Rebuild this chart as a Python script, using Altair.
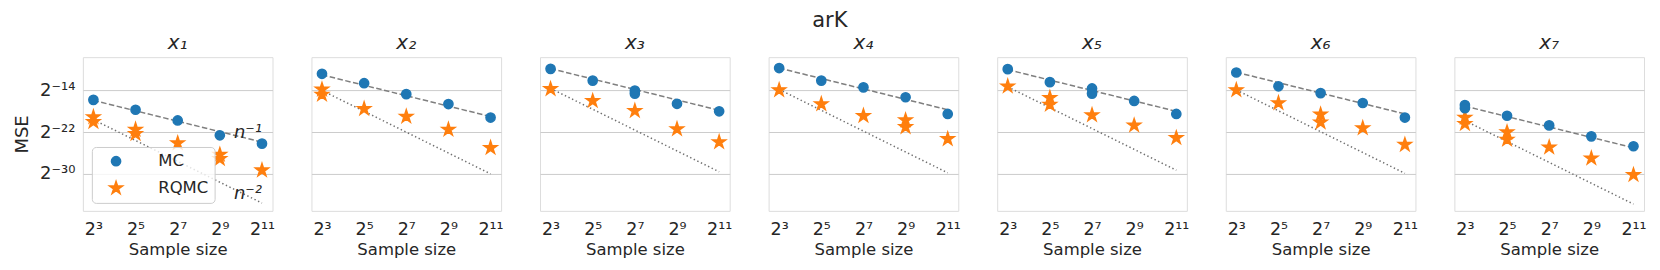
import math
import altair as alt
import pandas as pd

# ---------------- data (log2 units) ----------------
N_EXP = [3, 5, 7, 9, 11]
PANELS = ["x₁", "x₂", "x₃", "x₄", "x₅", "x₆", "x₇"]

MC = [
    [-15.8, -17.7, -19.75, -22.6, -24.2],
    [-10.8, -12.6, -14.7, -16.6, -19.2],
    [-9.85, -12.1, -14.0, -16.55, -18.0],
    [-9.7, -12.1, -13.4, -15.3, -18.5],
    [-9.9, -12.4, -13.6, -16.0, -18.5],
    [-10.55, -13.2, -14.5, -16.4, -19.2],
    [-16.8, -18.85, -20.7, -22.8, -24.7],
]
RQMC = [
    [-19.1, -21.5, -24.1, -26.3, -29.3],
    [-13.8, -17.5, -19.0, -21.5, -25.0],
    [-13.7, -16.0, -17.9, -21.4, -23.9],
    [-13.9, -16.6, -18.85, -19.7, -23.3],
    [-13.2, -15.4, -18.7, -20.7, -23.1],
    [-13.9, -16.4, -18.6, -21.2, -24.4],
    [-19.2, -22.0, -24.9, -27.0, -30.2],
]
# additional repetitions visible as overlapping markers
EXTRA_PANEL = [0, 0, 0, 1, 4, 5, 3, 2, 4, 6, 6, 6]
EXTRA_METHOD = ["RQMC", "RQMC", "RQMC", "RQMC", "RQMC", "RQMC", "RQMC",
                "MC", "MC", "RQMC", "MC", "RQMC"]
EXTRA_N = [3, 5, 9, 3, 5, 7, 9, 7, 7, 5, 3, 3]
EXTRA_MSE = [-20.0, -22.3, -27.1, -14.8, -16.7, -20.1, -21.0,
             -14.6, -14.6, -23.4, -17.4, -20.4]

# reference rate lines: values at n = 2^3 and n = 2^11
DASH_START = [-15.9, -11.0, -9.8, -9.7, -10.0, -10.5, -17.0]
DASH_END = [-23.9, -19.0, -17.8, -17.7, -18.0, -18.5, -25.0]
DOT_START = [-19.6, -14.0, -13.6, -13.8, -13.3, -13.9, -19.8]
DOT_END = [-35.6, -30.0, -29.6, -29.8, -29.3, -29.9, -35.8]

X_TICKS = [3, 5, 7, 9, 11]
X_LABELS = ["2³", "2⁵", "2⁷", "2⁹", "2¹¹"]
Y_TICKS = [-14, -22, -30]
Y_LABELS = ["2⁻¹⁴", "2⁻²²", "2⁻³⁰"]
RATE_TEXT = ["n⁻¹", "n⁻²"]
METHODS = ["MC", "RQMC"]

# ---------------- styling ----------------
FONT = "DejaVu Sans"
TXT = "#262626"
GRID = "#cccccc"
W, H = 190, 154

star = []
for k in range(10):
    r = 1.0 if k % 2 == 0 else 0.381966
    a = math.radians(-90 + 36 * k)
    star.append(f"{r*math.cos(a):.4f},{r*math.sin(a):.4f}")
STAR_PATH = "M" + "L".join(star) + "Z"


def label_expr(vals, labels):
    expr = "''"
    for v, l in reversed(list(zip(vals, labels))):
        expr = f"datum.value == {v} ? '{l}' : {expr}"
    return expr


xscale = alt.Scale(domain=[2.5, 11.5], nice=False, zero=False)
yscale = alt.Scale(domain=[-37.1, -7.6], nice=False, zero=False)

legend = alt.Legend(
    orient="none", legendX=9, legendY=90, title=None,
    labelFontSize=16.5, labelFont=FONT, labelColor=TXT,
    fillColor="rgba(255,255,255,0.8)", strokeColor=GRID,
    padding=6, cornerRadius=4, rowPadding=8, labelOffset=34, symbolOffset=10,
    symbolStrokeWidth=1.5,
)


def panel(i):
    rows = []
    for n, v in zip(N_EXP, MC[i]):
        rows.append({"n": n, "mse": v, "method": "MC"})
    for n, v in zip(N_EXP, RQMC[i]):
        rows.append({"n": n, "mse": v, "method": "RQMC"})
    for p, m, n, v in zip(EXTRA_PANEL, EXTRA_METHOD, EXTRA_N, EXTRA_MSE):
        if p == i:
            rows.append({"n": n, "mse": v, "method": m})
    pts = pd.DataFrame(rows)

    first = i == 0
    xaxis = alt.Axis(values=X_TICKS, labelExpr=label_expr(X_TICKS, X_LABELS),
                     title="Sample size", grid=False, ticks=False, domain=False,
                     labelFontSize=17.5, labelFont=FONT, labelColor=TXT, labelPadding=10,
                     titleFontSize=16.5, titleFont=FONT, titleColor=TXT,
                     titleFontWeight="normal", titlePadding=3)
    if first:
        yaxis = alt.Axis(values=Y_TICKS, labelExpr=label_expr(Y_TICKS, Y_LABELS),
                         title="MSE", grid=True, gridColor=GRID, gridWidth=1,
                         ticks=False, domain=False, labelFontSize=18, labelFont=FONT,
                         labelColor=TXT, labelPadding=8, titleFontSize=18,
                         titleFont=FONT, titleColor=TXT, titleFontWeight="normal",
                         titlePadding=8)
    else:
        yaxis = alt.Axis(values=Y_TICKS, labels=False, title=None, grid=True,
                         gridColor=GRID, gridWidth=1, ticks=False, domain=False)

    dash = pd.DataFrame({"n": [N_EXP[0], N_EXP[-1]], "mse": [DASH_START[i], DASH_END[i]]})
    dot = pd.DataFrame({"n": [N_EXP[0], N_EXP[-1]], "mse": [DOT_START[i], DOT_END[i]]})

    base_x = alt.X("n:Q", scale=xscale, axis=xaxis)
    base_y = alt.Y("mse:Q", scale=yscale, axis=yaxis)

    l_dash = alt.Chart(dash).mark_line(color="#7f7f7f", strokeDash=[5.5, 2.5],
                                       strokeWidth=1.5).encode(x=base_x, y=base_y)
    l_dot = alt.Chart(dot).mark_line(color="#6f6f6f", strokeDash=[1.4, 2.6],
                                     strokeWidth=1.5).encode(x=base_x, y=base_y)
    marks = alt.Chart(pts).mark_point(filled=True, opacity=1, strokeWidth=1.5).encode(
        x=base_x, y=base_y,
        color=alt.Color("method:N", scale=alt.Scale(domain=METHODS,
                        range=["#1f77b4", "#ff7f0e"]), legend=legend),
        shape=alt.Shape("method:N", scale=alt.Scale(domain=METHODS,
                        range=["circle", STAR_PATH]), legend=legend),
        size=alt.Size("method:N", scale=alt.Scale(domain=METHODS,
                      range=[85, 185]), legend=legend),
        stroke=alt.Stroke("method:N", scale=alt.Scale(domain=METHODS,
                          range=["#1f77b4", "#ff7f0e"]), legend=None),
    )
    layers = [l_dash, l_dot, marks]
    if first:
        ann = pd.DataFrame({"n": [N_EXP[-1], N_EXP[-1]],
                            "mse": [DASH_END[i], DOT_END[i]],
                            "t": RATE_TEXT})
        txt = alt.Chart(ann).mark_text(align="right", baseline="bottom", dx=0,
                                       fontSize=18, font=FONT, fontStyle="italic",
                                       color=TXT).encode(x=base_x, y=base_y, text="t:N")
        layers.append(txt)
    return alt.layer(*layers).properties(
        width=W, height=H,
        title=alt.TitleParams(PANELS[i], fontSize=20, font=FONT, fontStyle="italic",
                              fontWeight="normal", color=TXT, offset=4),
    )


chart = alt.hconcat(*[panel(i) for i in range(7)], spacing=39, bounds="flush").properties(
    title=alt.TitleParams("arK", fontSize=21, font=FONT, fontWeight="normal",
                          color=TXT, anchor="middle", offset=2),
    padding={"left": 5, "top": 1, "right": 5, "bottom": 5},
).configure_view(stroke=GRID, strokeWidth=1.25).configure(background="white")

chart.save("out.html", embed_options={"renderer": "svg", "actions": False})
